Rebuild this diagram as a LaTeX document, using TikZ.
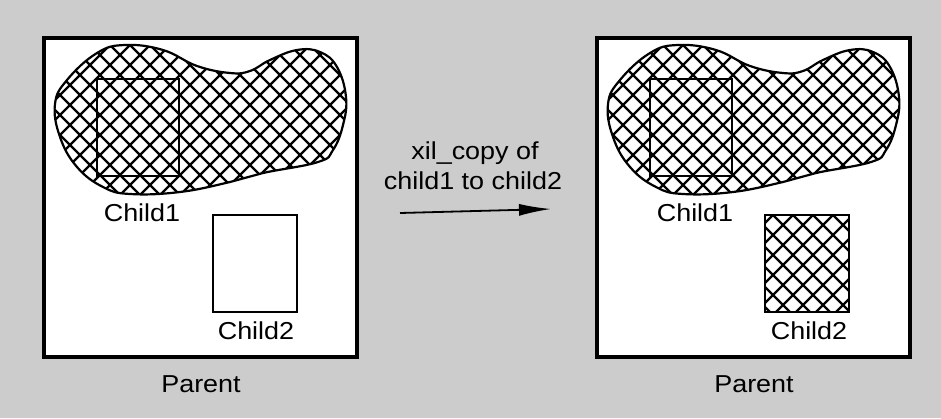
\documentclass[tikz,border=0pt]{standalone}
\usepackage{fontspec}
\setmainfont{Liberation Sans}
\usetikzlibrary{arrows.meta}
\definecolor{bggray}{HTML}{CCCCCC}
\newcommand\wt[1]{\scalebox{1.1}[1.0]{#1}}
\newcommand\hatchlines{\foreach \c in {-440,-420,...,1400} {\draw[hatch] (\c+15,0) -- (\c-405,420); \draw[hatch] (\c+5,0) -- (\c+425,420);}}
\tikzset{
  hatch/.style={line width=2.2pt, line cap=butt},
  parentbox/.style={line width=4pt, fill=white},
  childbox/.style={line width=2pt},
  lbl/.style={font=\fontsize{24.5}{29}\selectfont, inner sep=0pt, anchor=center},
}
\begin{document}
\begin{tikzpicture}[x=1pt,y=-1pt]
\useasboundingbox (0,0) rectangle (941,418);
\fill[bggray] (0,0) rectangle (941,418);
\foreach \sx/\nm in {0/L,553/R} {
  \begin{scope}[xshift=\sx pt]
    \draw[parentbox] (44,38) rectangle (357,357);
    \begin{scope}
      \clip plot[smooth cycle, tension=0.7] coordinates {(55,104) (67,80) (97,53) (125,45) (163,50) (197,66) (230,73) (250,71) (270,60) (297,50) (320,52) (337,67) (346,97) (343,125) (333,150) (318,162) (263,173) (230,182) (180,192) (130,194) (103,187) (77,167) (60,137)};
      \hatchlines
    \end{scope}
    \draw[line width=2.2pt] plot[smooth cycle, tension=0.7] coordinates {(55,104) (67,80) (97,53) (125,45) (163,50) (197,66) (230,73) (250,71) (270,60) (297,50) (320,52) (337,67) (346,97) (343,125) (333,150) (318,162) (263,173) (230,182) (180,192) (130,194) (103,187) (77,167) (60,137)};
    \draw[childbox] (97,79) rectangle (179,176);
    \ifnum\sx>0
      \begin{scope}
        \clip (212,215) rectangle (296,312);
        \hatchlines
      \end{scope}
      \draw[childbox] (212,215) rectangle (296,312);
    \else
      \draw[childbox] (213,215) rectangle (297,312);
    \fi
    \node[lbl] (c1\nm) at (142,213) {\wt{Child1}};
    \node[lbl] (c2\nm) at (256,331) {\wt{Child2}};
    \node[lbl] (p\nm) at (201,384) {\wt{Parent}};
  \end{scope}
}
\node[lbl] (t1) at (475,153) {\wt{xil\_copy of}};
\node[lbl] (t2) at (473,181) {\wt{child1 to child2}};
\coordinate (as) at (400,213);
\coordinate (ae) at (551,209);
\draw[line width=1.8pt, -{Latex[length=32pt,width=12pt]}] (as) -- (ae);
\end{tikzpicture}
\end{document}
